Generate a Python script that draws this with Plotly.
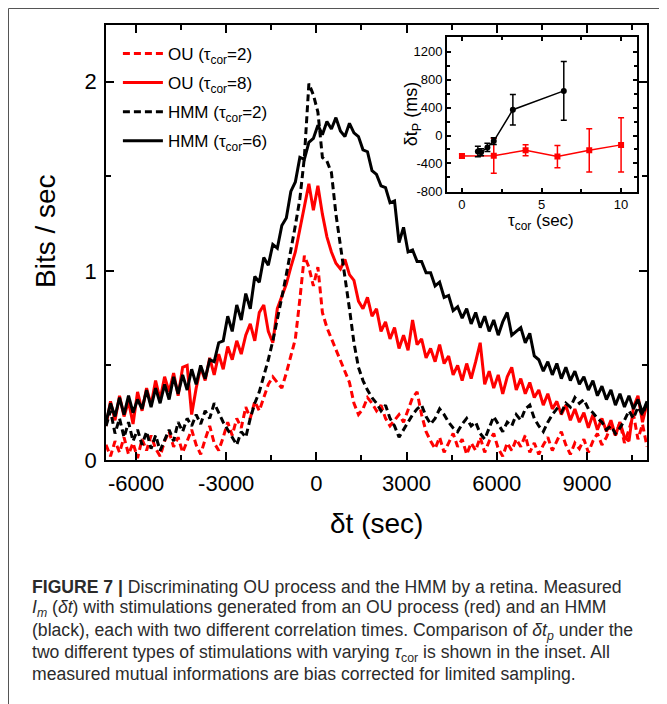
import plotly.graph_objects as go

# ---------------- data ----------------
dt = list(range(-7000, 11001, 150))  # delta t grid (sec)

ou_tau2 = [0.08, 0.02, 0.10, 0.04, 0.12, 0.03, 0.09, 0.01, 0.11, 0.05,
           0.13, 0.06, 0.02, 0.10, 0.15, 0.07, 0.12, 0.04, 0.10, 0.16,
           0.08, 0.03, 0.11, 0.18, 0.09, 0.05, 0.12, 0.20, 0.13, 0.22,
           0.17, 0.28, 0.22, 0.31, 0.26, 0.33, 0.40, 0.44, 0.41, 0.38,
           0.46, 0.55, 0.64, 0.85, 1.08, 1.02, 0.92, 1.02, 0.78, 0.70,
           0.64, 0.58, 0.52, 0.47, 0.41, 0.30, 0.24, 0.27, 0.33, 0.30,
           0.26, 0.29, 0.22, 0.18, 0.21, 0.24, 0.20, 0.27, 0.33, 0.36,
           0.24, 0.15, 0.10, 0.06, 0.12, 0.04, 0.09, 0.14, 0.07, 0.11,
           0.03, 0.09, 0.05, 0.12, 0.04, 0.10, 0.14, 0.06, 0.02, 0.09,
           0.05, 0.11, 0.07, 0.13, 0.04, 0.09, 0.03, 0.08, 0.12, 0.05,
           0.10, 0.15, 0.08, 0.03, 0.09, 0.06, 0.11, 0.04, 0.10, 0.14,
           0.08, 0.12, 0.18, 0.13, 0.20, 0.09, 0.16, 0.24, 0.11, 0.19,
           0.07]

ou_tau8 = [0.18, 0.31, 0.21, 0.34, 0.23, 0.31, 0.19, 0.36, 0.26, 0.38,
           0.29, 0.42, 0.32, 0.44, 0.36, 0.46, 0.34, 0.49, 0.50, 0.24,
           0.38, 0.49, 0.42, 0.54, 0.45, 0.56, 0.48, 0.60, 0.53, 0.63,
           0.56, 0.66, 0.72, 0.63, 0.78, 0.82, 0.68, 0.62, 0.80, 0.86,
           0.93, 1.02, 1.10, 1.22, 1.35, 1.46, 1.32, 1.45, 1.30, 1.18,
           1.10, 1.04, 1.01, 1.06, 0.98, 0.95, 0.84, 0.80, 0.86, 0.76,
           0.80, 0.68, 0.73, 0.64, 0.70, 0.59, 0.66, 0.58, 0.74, 0.61,
           0.64, 0.54, 0.59, 0.52, 0.61, 0.51, 0.55, 0.45, 0.50, 0.42,
           0.51, 0.43, 0.52, 0.62, 0.40, 0.47, 0.38, 0.45, 0.35, 0.44,
           0.49, 0.37, 0.43, 0.35, 0.41, 0.33, 0.37, 0.29, 0.35, 0.27,
           0.31, 0.24, 0.29, 0.21, 0.27, 0.20, 0.25, 0.17, 0.24, 0.16,
           0.22, 0.15, 0.21, 0.13, 0.20, 0.12, 0.10, 0.28, 0.34, 0.20,
           0.30]

hmm_tau2 = [0.18, 0.26, 0.14, 0.22, 0.12, 0.20, 0.10, 0.16, 0.08, 0.15,
            0.06, 0.13, 0.05, 0.11, 0.16, 0.10, 0.20, 0.15, 0.22, 0.18,
            0.24, 0.19, 0.26, 0.22, 0.30, 0.25, 0.20, 0.16, 0.12, 0.08,
            0.15, 0.12, 0.22, 0.30, 0.36, 0.44, 0.53, 0.63, 0.74, 0.86,
            0.98, 1.10, 1.24, 1.38, 1.60, 1.99, 1.93, 1.84, 1.60, 1.58,
            1.52, 1.30, 1.14, 0.98, 0.80, 0.62, 0.49, 0.42, 0.37, 0.33,
            0.30, 0.26, 0.29, 0.22, 0.18, 0.12, 0.16, 0.20, 0.24, 0.27,
            0.29, 0.23, 0.19, 0.22, 0.27, 0.24, 0.20, 0.17, 0.15, 0.19,
            0.22, 0.18, 0.20, 0.14, 0.11, 0.17, 0.23, 0.19, 0.15, 0.20,
            0.18, 0.24, 0.21, 0.27, 0.29, 0.22, 0.18, 0.15, 0.20, 0.24,
            0.27, 0.25, 0.30, 0.28, 0.33, 0.30, 0.32, 0.27, 0.25, 0.22,
            0.20, 0.16, 0.18, 0.14, 0.17, 0.21, 0.26, 0.22, 0.28, 0.24,
            0.30]

hmm_tau6 = [0.20, 0.30, 0.23, 0.33, 0.24, 0.34, 0.25, 0.32, 0.27, 0.37,
            0.28, 0.38, 0.30, 0.40, 0.32, 0.44, 0.35, 0.45, 0.37, 0.48,
            0.40, 0.50, 0.43, 0.53, 0.52, 0.62, 0.63, 0.76, 0.68, 0.82,
            0.74, 0.88, 0.80, 0.97, 0.94, 1.07, 1.03, 1.14, 1.12, 1.24,
            1.28, 1.42, 1.47, 1.60, 1.59, 1.68, 1.70, 1.77, 1.72, 1.79,
            1.75, 1.81, 1.74, 1.71, 1.78, 1.73, 1.71, 1.64, 1.63, 1.53,
            1.51, 1.45, 1.44, 1.36, 1.37, 1.15, 1.23, 1.10, 1.11, 1.05,
            1.05, 0.99, 0.99, 0.92, 0.94, 0.86, 0.87, 0.79, 0.81, 0.75,
            0.80, 0.72, 0.78, 0.70, 0.76, 0.68, 0.74, 0.66, 0.73, 0.78,
            0.66, 0.68, 0.70, 0.62, 0.67, 0.55, 0.53, 0.47, 0.52, 0.45,
            0.51, 0.43, 0.49, 0.42, 0.47, 0.40, 0.44, 0.37, 0.42, 0.34,
            0.39, 0.32, 0.37, 0.29, 0.35, 0.28, 0.34, 0.27, 0.32, 0.25,
            0.31]

# inset: peak shift vs correlation time
tau_ou = [0, 2, 4, 6, 8, 10]
dtp_ou = [-293, -290, -211, -302, -211, -134]
err_ou = [30, 250, 80, 160, 310, 390]
tau_hmm = [1.0, 1.2, 1.6, 2.0, 3.2, 6.4]
dtp_hmm = [-230, -240, -170, -80, 370, 640]
err_hmm = [75, 50, 60, 50, 220, 420]

x_ticks = [-6000, -3000, 0, 3000, 6000, 9000]
x_ticktext = ["-6000", "-3000", "0", "3000", "6000", "9000"]
y_ticks = [0, 1, 2]
ins_x_ticks = [0, 5, 10]
ins_y_ticks = [-800, -400, 0, 400, 800, 1200]
ins_y_ticktext = ["-800", "-400", "0", "400", "800", "1200"]

# ---------------- figure ----------------
FONT = "Liberation Sans, Arial, sans-serif"
RED = "#ff0000"
BLACK = "#000000"
DASH = "7px,4px"

fig = go.Figure()
series = [
    ("OU (τ<sub>cor</sub>=2)", ou_tau2, RED, DASH),
    ("OU (τ<sub>cor</sub>=8)", ou_tau8, RED, "solid"),
    ("HMM (τ<sub>cor</sub>=2)", hmm_tau2, BLACK, DASH),
    ("HMM (τ<sub>cor</sub>=6)", hmm_tau6, BLACK, "solid"),
]
for i, (name, vals, col, dash) in enumerate(series):
    fig.add_trace(go.Scatter(
        x=dt, y=vals, mode="lines", name=name, legendgroup=str(i),
        line=dict(color=col, width=3, dash=dash),
        xaxis="x", yaxis="y"))

fig.add_trace(go.Scatter(
    x=tau_ou, y=dtp_ou, mode="lines+markers", showlegend=False,
    line=dict(color=RED, width=1.5),
    marker=dict(symbol="square", size=6, color=RED),
    error_y=dict(type="data", array=err_ou, color=RED, thickness=1.5, width=3),
    xaxis="x2", yaxis="y2"))
fig.add_trace(go.Scatter(
    x=tau_hmm, y=dtp_hmm, mode="lines+markers", showlegend=False,
    line=dict(color=BLACK, width=1.5),
    marker=dict(symbol="circle", size=6, color=BLACK),
    error_y=dict(type="data", array=err_hmm, color=BLACK, thickness=1.5, width=3),
    xaxis="x2", yaxis="y2"))

axis_common = dict(showline=True, linecolor="black", linewidth=1.5,
                   mirror="allticks", ticks="inside", tickcolor="black",
                   tickwidth=1.5, showgrid=False, zeroline=False)

# the page body adds an 8 px offset; plot area targets screen x 106-647, y 25-460
fig.update_layout(
    width=659, height=696,
    margin=dict(l=98, r=20, t=17, b=244),
    paper_bgcolor="white", plot_bgcolor="white",
    font=dict(family=FONT, color="black"),
    xaxis=dict(domain=[0, 1], range=[-7000, 11000], tickvals=x_ticks,
               ticktext=x_ticktext, ticklen=8,
               tickfont=dict(size=22), ticklabelstandoff=3,
               minor=dict(tickvals=[-4500, -1500, 1500, 4500, 7500, 10500],
                          ticks="inside", ticklen=5, tickwidth=1.5, tickcolor="black"),
               **axis_common),
    yaxis=dict(domain=[0, 1], range=[0, 2.3], tickvals=y_ticks, ticklen=8,
               tickfont=dict(size=22), ticklabelstandoff=3,
               minor=dict(tickvals=[0.5, 1.5], ticks="inside", ticklen=5,
                          tickwidth=1.5, tickcolor="black"),
               **axis_common),
    xaxis2=dict(domain=[0.630, 0.9815], anchor="y2", range=[-0.95, 11],
                tickvals=ins_x_ticks, ticklen=4, tickfont=dict(size=13),
                ticklabelstandoff=0,
                minor=dict(tickvals=[2.5, 7.5], ticks="inside", ticklen=3,
                           tickwidth=1.5, tickcolor="black"),
                **axis_common),
    yaxis2=dict(domain=[0.616, 0.972], anchor="x2", range=[-810, 1410],
                tickvals=ins_y_ticks, ticktext=ins_y_ticktext, ticklen=4,
                tickfont=dict(size=13),
                minor=dict(tickvals=[-600, -200, 200, 600, 1000, 1400],
                           ticks="inside", ticklen=3, tickwidth=1.5,
                           tickcolor="black"),
                **axis_common),
    legend=dict(x=0.022, y=0.975, xanchor="left", yanchor="top",
                bgcolor="rgba(0,0,0,0)", font=dict(size=17),
                tracegroupgap=4, itemwidth=40),
)

ann = []
ann.append(dict(text="δt (sec)", x=0.5, y=-0.147, xref="paper", yref="paper",
                showarrow=False, font=dict(size=28), xanchor="center", yanchor="middle"))
ann.append(dict(text="Bits / sec", x=-0.1128, y=0.5264, xref="paper", yref="paper",
                showarrow=False, font=dict(size=28), textangle=-90,
                xanchor="center", yanchor="middle"))
ann.append(dict(text="δt<sub>P</sub> (ms)", x=0.566, y=0.7954, xref="paper", yref="paper",
                showarrow=False, font=dict(size=18), textangle=-90,
                xanchor="center", yanchor="middle"))
ann.append(dict(text="τ<sub>cor</sub> (sec)", x=0.804, y=0.548, xref="paper", yref="paper",
                showarrow=False, font=dict(size=17), xanchor="center", yanchor="middle"))

caption = [
    "<b>FIGURE 7 |</b> Discriminating OU process and the HMM by a retina. Measured",
    "<i>I<sub>m</sub></i> (<i>δt</i>) with stimulations generated from an OU process (red) and an HMM",
    "(black), each with two different correlation times. Comparison of <i>δt<sub>p</sub></i> under the",
    "two different types of stimulations with varying <i>τ</i><sub>cor</sub> is shown in the inset. All",
    "measured mutual informations are bias corrected for limited sampling.",
]
cap_y = [-0.292, -0.3425, -0.3954, -0.4437, -0.4920]
for t, yy in zip(caption, cap_y):
    ann.append(dict(text=t, x=-0.1405, y=yy, xref="paper", yref="paper",
                    showarrow=False, font=dict(size=17.6, color="#2b2b2b"),
                    xanchor="left", yanchor="middle", align="left"))
fig.update_layout(annotations=ann)

# page frame (top and left border)
fig.add_shape(type="line", xref="paper", yref="paper",
              x0=-0.1802, x1=1.1, y0=1.0379, y1=1.0379,
              line=dict(color="#555555", width=1))
fig.add_shape(type="line", xref="paper", yref="paper",
              x0=-0.1802, x1=-0.1802, y0=1.0379, y1=-0.7,
              line=dict(color="#555555", width=1))

fig.write_html("out.html")
